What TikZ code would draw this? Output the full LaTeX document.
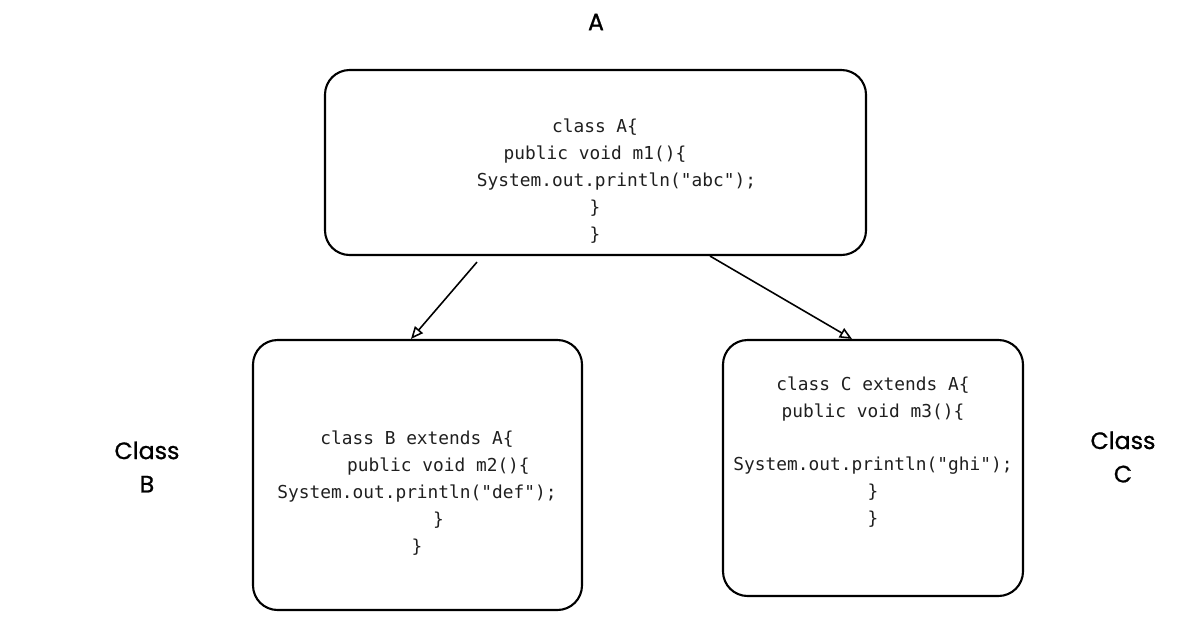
\documentclass[tikz,border=0pt]{standalone}
\usepackage{fontspec}
\newfontfamily\codefont{DejaVu Sans Mono}
\newfontfamily\handfont{Poppins}[FakeBold=0.8]
\usetikzlibrary{arrows.meta,calc}
\begin{document}
\begin{tikzpicture}[x=0.02cm,y=-0.02cm,
  box/.style={draw=black,line width=1.2pt,rounded corners=14pt,inner sep=0pt},
  code/.style={font=\codefont\fontsize{10.15}{15.3}\selectfont,align=center,text=black!88,inner sep=0pt},
  hand/.style={font=\handfont\fontsize{13.5}{19}\selectfont,align=center,inner sep=0pt},
  conn/.style={line width=0.9pt,-{Triangle[open,length=7pt,width=6pt]}}]
\useasboundingbox (0,0) rectangle (1197,619);
% boxes
\node[box,minimum width=541*0.02cm,minimum height=185*0.02cm] (A) at (595.5,162.5) {};
\node[box,minimum width=329*0.02cm,minimum height=270*0.02cm] (B) at (417.5,475) {};
\node[box,minimum width=300*0.02cm,minimum height=256*0.02cm] (C) at (873,468) {};
% code texts
\node[code] (At) at (595,181) {class A\{\\public void m1()\{\\\phantom{xxxx}System.out.println("abc");\\\}\\\}};
\node[code] (Bt) at (417,493) {class B extends A\{\\\phantom{xxxx}public void m2()\{\\System.out.println("def");\\\phantom{xxxx}\}\\\}};
\node[code] (Ct) at (873,452) {class C extends A\{\\public void m3()\{\\\mbox{}\\System.out.println("ghi");\\\}\\\}};
% labels
\node[hand] (LA) at (596,22) {A};
\node[hand] (LB) at (147,467) {Class\\B};
\node[hand] (LC) at (1123,457) {Class\\C};
% connectors
\draw[conn] ([xshift=-118.5*0.02cm,yshift=-6*0.02cm]A.south) -- ([xshift=-6.5*0.02cm]B.north);
\draw[conn] ([xshift=114.5*0.02cm]A.south) -- ([xshift=-21*0.02cm]C.north);
\end{tikzpicture}
\end{document}
